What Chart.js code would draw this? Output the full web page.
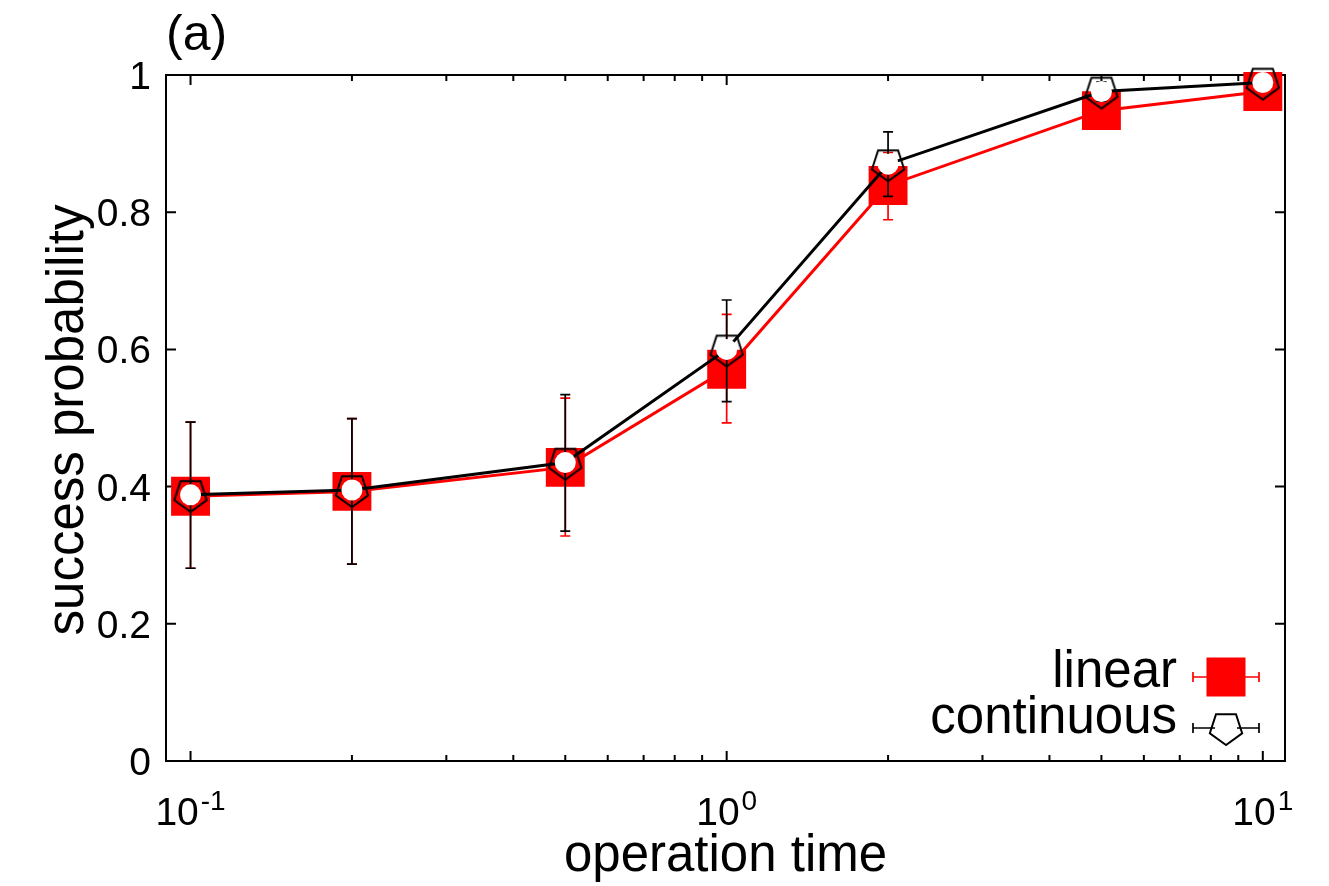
<!DOCTYPE html>
<html>
<head>
<meta charset="utf-8">
<script src="https://cdn.jsdelivr.net/npm/chart.js@4.4.1/dist/chart.umd.min.js"></script>
<style>
  html, body { margin: 0; padding: 0; background: #fff; }
  #wrap { width: 1329px; height: 886px; }
</style>
</head>
<body>
<div id="wrap"><canvas id="chart" width="1329" height="886"></canvas></div>
<script>
// operation time (log axis)
const times = [0.1, 0.2, 0.5, 1, 2, 5, 10];

// "linear" series with error bar ends
const linearProb = [0.386, 0.393, 0.428, 0.571, 0.839, 0.948, 0.976];
const linearLow  = [0.281, 0.287, 0.328, 0.493, 0.789, 0.930, 0.962];
const linearHigh = [0.494, 0.499, 0.529, 0.651, 0.887, 0.966, 0.990];

// "continuous" series with error bar ends
const contProb = [0.388, 0.395, 0.435, 0.600, 0.870, 0.976, 0.989];
const contLow  = [0.281, 0.287, 0.335, 0.524, 0.823, 0.962, 0.980];
const contHigh = [0.494, 0.499, 0.534, 0.672, 0.917, 0.990, 0.997];

const yTicks = [0, 0.2, 0.4, 0.6, 0.8, 1];
const xTicks = [0.1, 1, 10];
const xTickExp = ['-1', '0', '1'];
const xMinorTicks = [0.2, 0.3, 0.4, 0.5, 0.6, 0.7, 0.8, 0.9, 2, 3, 4, 5, 6, 7, 8, 9];

const FONT = '"Liberation Sans", Arial, Helvetica, sans-serif';

function pentagon(ctx, cx, cy, r) {
  ctx.beginPath();
  for (let k = 0; k < 5; k++) {
    const a = Math.PI / 2 + k * 2 * Math.PI / 5; // first vertex points down
    const px = cx + r * Math.cos(a), py = cy + r * Math.sin(a);
    if (k === 0) ctx.moveTo(px, py); else ctx.lineTo(px, py);
  }
  ctx.closePath();
}

// pentagon marker image
const pentaImg = document.createElement('canvas');
pentaImg.width = 42; pentaImg.height = 42;
(function () {
  const c = pentaImg.getContext('2d');
  c.strokeStyle = '#000'; c.lineWidth = 2;
  pentagon(c, 21, 21, 17);
  c.stroke();
})();

function drawErrorBars(chart, lows, highs, color) {
  const { ctx, scales: { x, y } } = chart;
  ctx.save();
  ctx.strokeStyle = color;
  ctx.lineWidth = 1.7;
  times.forEach((t, i) => {
    const px = x.getPixelForValue(t);
    const top = y.getPixelForValue(highs[i]);
    const bot = y.getPixelForValue(lows[i]);
    ctx.beginPath();
    ctx.moveTo(px, top); ctx.lineTo(px, bot);
    ctx.moveTo(px - 5, top); ctx.lineTo(px + 5, top);
    ctx.moveTo(px - 5, bot); ctx.lineTo(px + 5, bot);
    ctx.stroke();
  });
  ctx.restore();
}

const framePlugin = {
  id: 'frame',
  beforeDatasetsDraw(chart) {
    const { ctx, chartArea: a, scales: { x, y } } = chart;
    ctx.save();
    ctx.strokeStyle = '#000';
    ctx.lineWidth = 2;
    ctx.strokeRect(a.left, a.top, a.right - a.left, a.bottom - a.top);
    ctx.beginPath();
    yTicks.forEach(v => {
      const py = y.getPixelForValue(v);
      ctx.moveTo(a.left, py); ctx.lineTo(a.left + 10, py);
      ctx.moveTo(a.right, py); ctx.lineTo(a.right - 10, py);
    });
    xTicks.forEach(v => {
      const px = x.getPixelForValue(v);
      ctx.moveTo(px, a.bottom); ctx.lineTo(px, a.bottom - 10);
      ctx.moveTo(px, a.top); ctx.lineTo(px, a.top + 10);
    });
    xMinorTicks.forEach(v => {
      const px = x.getPixelForValue(v);
      ctx.moveTo(px, a.bottom); ctx.lineTo(px, a.bottom - 6);
      ctx.moveTo(px, a.top); ctx.lineTo(px, a.top + 6);
    });
    ctx.stroke();

    // tick labels
    ctx.fillStyle = '#000';
    ctx.font = '39px ' + FONT;
    ctx.textAlign = 'right';
    ctx.textBaseline = 'alphabetic';
    yTicks.forEach(v => {
      const py = y.getPixelForValue(v);
      ctx.fillText(String(v), a.left - 15, py + 14);
    });
    xTicks.forEach((v, i) => {
      const px = x.getPixelForValue(v);
      ctx.font = '39px ' + FONT;
      const wb = ctx.measureText('10').width;
      ctx.font = '28px ' + FONT;
      const we = ctx.measureText(xTickExp[i]).width;
      const left = px - (wb + 2 + we) / 2;
      ctx.textAlign = 'left';
      ctx.font = '39px ' + FONT;
      ctx.fillText('10', left, a.bottom + 64);
      ctx.font = '28px ' + FONT;
      ctx.fillText(xTickExp[i], left + wb + 2, a.bottom + 49);
    });

    // axis titles
    ctx.font = '51px ' + FONT;
    ctx.textAlign = 'center';
    ctx.fillText('operation time', (a.left + a.right) / 2, 871);
    ctx.save();
    ctx.translate(83, (a.top + a.bottom) / 2 + 2);
    ctx.rotate(-Math.PI / 2);
    ctx.fillText('success probability', 0, 0);
    ctx.restore();

    ctx.textAlign = 'left';
    ctx.font = '50px ' + FONT;
    ctx.fillText('(a)', 166, 50);
    ctx.restore();
  },
  afterDatasetDraw(chart, args) {
    if (args.index === 3) drawErrorBars(chart, linearLow, linearHigh, '#ff0000');
    if (args.index === 2) drawErrorBars(chart, contLow, contHigh, '#000000');
  },
  afterDraw(chart) {
    const { ctx } = chart;
    ctx.save();
    ctx.font = '51px ' + FONT;
    ctx.fillStyle = '#000';
    ctx.textAlign = 'right';
    ctx.fillText('linear', 1177, 687);
    ctx.fillText('continuous', 1177, 733);

    ctx.lineWidth = 1.7;
    // linear sample
    ctx.strokeStyle = '#ff0000';
    ctx.beginPath();
    ctx.moveTo(1193, 677); ctx.lineTo(1259, 677);
    ctx.moveTo(1193, 672); ctx.lineTo(1193, 682);
    ctx.moveTo(1259, 672); ctx.lineTo(1259, 682);
    ctx.stroke();
    ctx.fillStyle = '#ff0000';
    ctx.fillRect(1226 - 19.5, 677 - 19.5, 39, 39);

    // continuous sample
    ctx.strokeStyle = '#000';
    ctx.beginPath();
    ctx.moveTo(1193, 728); ctx.lineTo(1259, 728);
    ctx.moveTo(1193, 723); ctx.lineTo(1193, 733);
    ctx.moveTo(1259, 723); ctx.lineTo(1259, 733);
    ctx.stroke();
    ctx.fillStyle = '#fff';
    ctx.beginPath(); ctx.arc(1226, 728, 11, 0, Math.PI * 2); ctx.fill();
    ctx.lineWidth = 2;
    pentagon(ctx, 1226, 728, 17);
    ctx.stroke();
    ctx.restore();
  }
};

const linearPts = times.map((t, i) => ({ x: t, y: linearProb[i] }));
const contPts = times.map((t, i) => ({ x: t, y: contProb[i] }));

new Chart(document.getElementById('chart'), {
  type: 'line',
  data: {
    datasets: [
      { label: 'continuous', data: contPts, showLine: false, pointStyle: pentaImg, clip: false },
      { label: 'continuous-bg', data: contPts, showLine: false, pointStyle: 'circle',
        pointRadius: 10.5, pointBackgroundColor: '#fff', pointBorderWidth: 0, clip: false },
      { label: 'continuous-line', data: contPts, borderColor: '#000', borderWidth: 3,
        pointRadius: 0, clip: false },
      { label: 'linear', data: linearPts, borderColor: '#ff0000', borderWidth: 3,
        pointStyle: 'rect', pointRadius: 27.5, pointBackgroundColor: '#ff0000',
        pointBorderWidth: 0, clip: false }
    ]
  },
  options: {
    responsive: false,
    animation: false,
    devicePixelRatio: 1,
    events: [],
    layout: { padding: { left: 166, top: 75, right: 44, bottom: 125 } },
    plugins: { legend: { display: false }, tooltip: { enabled: false } },
    scales: {
      x: { type: 'logarithmic', min: 0.09, max: 11, display: false },
      y: { type: 'linear', min: 0, max: 1, display: false }
    }
  },
  plugins: [framePlugin]
});
</script>
</body>
</html>
